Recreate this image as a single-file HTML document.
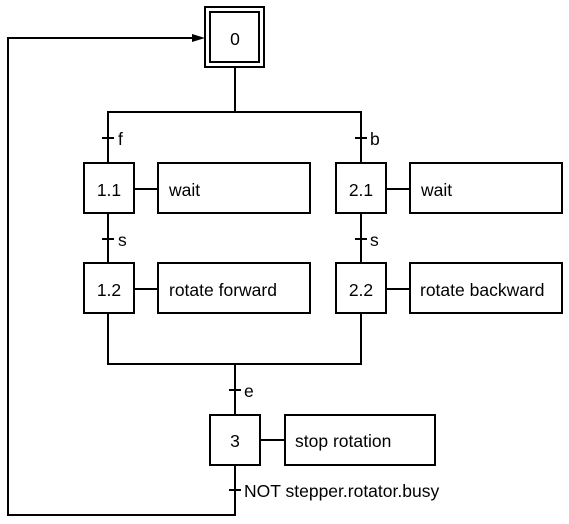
<!DOCTYPE html>
<html><head><meta charset="utf-8"><style>
html,body{margin:0;padding:0;background:#fff;}
svg{display:block;}
text{font-family:"Liberation Sans",sans-serif;font-size:17.5px;fill:#000;}
</style></head><body>
<svg width="569" height="524" viewBox="0 0 569 524" xmlns="http://www.w3.org/2000/svg">
<g fill="none" stroke="#000" stroke-width="2">
<rect x="205" y="7" width="59" height="60"/>
<rect x="210" y="12" width="49" height="50"/>
<polyline points="235,67 235,112"/>
<polyline points="108,163 108,112 361,112 361,163"/>
<line x1="102" y1="138" x2="114" y2="138"/>
<line x1="355" y1="138" x2="367" y2="138"/>
<rect x="84" y="163" width="50" height="50"/>
<rect x="158" y="163" width="152" height="50"/>
<line x1="134" y1="189" x2="158" y2="189"/>
<line x1="108" y1="213" x2="108" y2="263"/>
<line x1="102" y1="239" x2="114" y2="239"/>
<rect x="84" y="263" width="50" height="50"/>
<rect x="158" y="263" width="152" height="50"/>
<line x1="134" y1="289" x2="158" y2="289"/>
<rect x="336" y="163" width="50" height="50"/>
<rect x="410" y="163" width="152" height="50"/>
<line x1="386" y1="189" x2="410" y2="189"/>
<line x1="361" y1="213" x2="361" y2="263"/>
<line x1="355" y1="239" x2="367" y2="239"/>
<rect x="336" y="263" width="50" height="50"/>
<rect x="410" y="263" width="152" height="50"/>
<line x1="386" y1="289" x2="410" y2="289"/>
<polyline points="108,313 108,364 361,364 361,313"/>
<line x1="235" y1="364" x2="235" y2="415"/>
<line x1="229" y1="390" x2="241" y2="390"/>
<rect x="210" y="415" width="50" height="50"/>
<rect x="285" y="415" width="150" height="50"/>
<line x1="260" y1="440" x2="285" y2="440"/>
<polyline points="235,465 235,515 8,515 8,38 192,38"/>
<line x1="229" y1="490" x2="241" y2="490"/>
</g>
<polygon points="205,38 192,34 192,42" fill="#000"/>
<g text-anchor="middle">
<text x="235" y="45">0</text>
<text x="109" y="196">1.1</text>
<text x="109" y="296">1.2</text>
<text x="361" y="196">2.1</text>
<text x="361" y="296">2.2</text>
<text x="235" y="447">3</text>
</g>
<text x="118" y="145">f</text>
<text x="370" y="145">b</text>
<text x="118" y="246">s</text>
<text x="370" y="246">s</text>
<text x="244" y="397">e</text>
<text x="244" y="497">NOT stepper.rotator.busy</text>
<text x="169" y="196">wait</text>
<text x="169" y="296">rotate forward</text>
<text x="421" y="196">wait</text>
<text x="420" y="296">rotate backward</text>
<text x="295" y="447">stop rotation</text>
</svg>
</body></html>
